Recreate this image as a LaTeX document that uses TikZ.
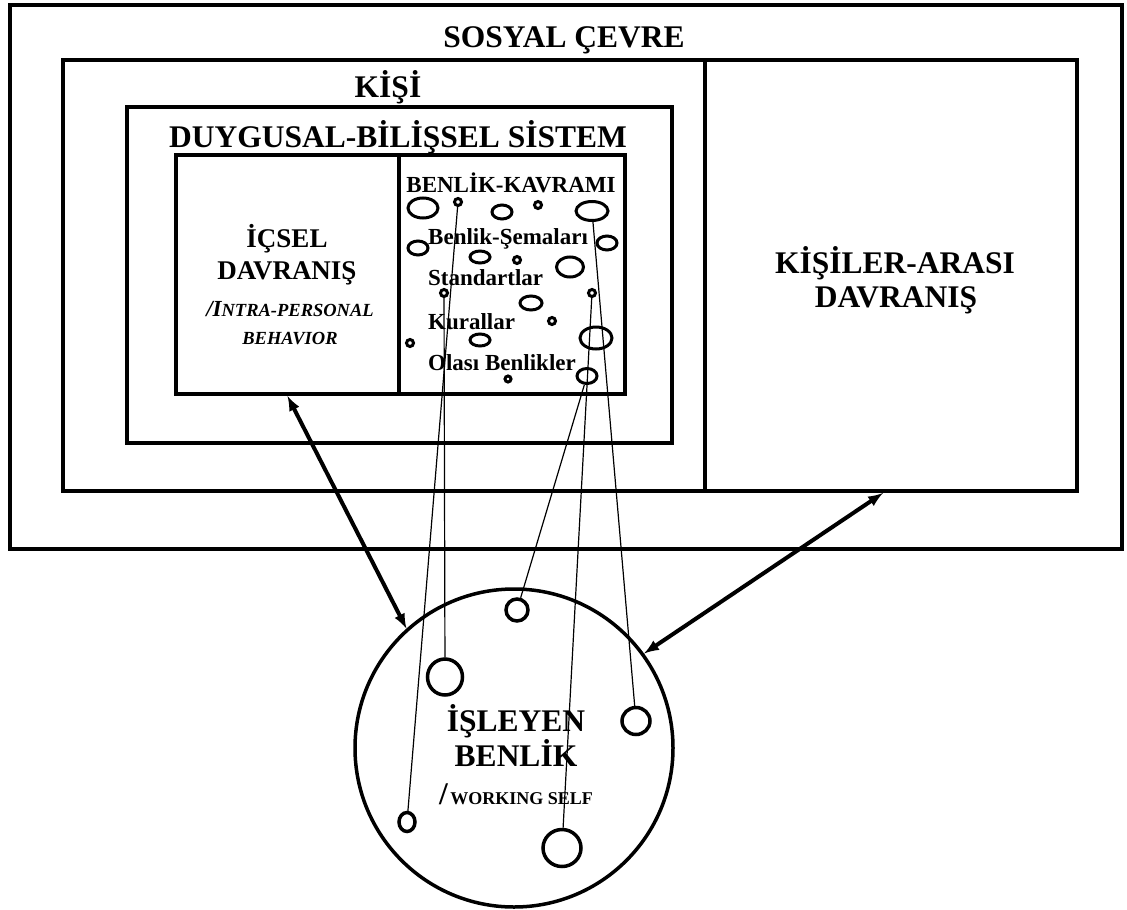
\documentclass[tikz,border=0pt]{standalone}
\usepackage{fontspec}
\setmainfont{Liberation Serif}
\usetikzlibrary{arrows}
\usetikzlibrary{shapes.geometric}

\tikzset{
	box/.style = {draw, rectangle, line width=4pt, inner sep=0pt},
	ring/.style = {draw, ellipse, line width=3pt, inner sep=0pt},
	dot/.style = {draw, circle, line width=3pt, inner sep=0pt, minimum size=7pt},
	head/.style = {anchor=base, inner sep=0pt, font=\fontsize{31.5}{32}\selectfont\bfseries},
	midhead/.style = {anchor=base, inner sep=0pt, font=\fontsize{27}{28}\selectfont\bfseries},
	item/.style = {anchor=base west, inner sep=0pt, font=\fontsize{23}{24}\selectfont\bfseries},
	thread/.style = {line width=1.2pt},
	link/.style = {<->, >=latex, line width=4pt}
}

\begin{document}
\begin{tikzpicture}[x=1pt, y=-1pt]
	\useasboundingbox (0,0) rectangle (1127,910);

	\node [box, minimum width=1112pt, minimum height=544pt] (cevre) at (566,277) {};
	\node [box, minimum width=1014pt, minimum height=431pt] (kisi) at (570,275.5) {};
	\node [box, minimum width=372pt, minimum height=431pt] (kisiler) at (891,275.5) {};
	\node [box, minimum width=545pt, minimum height=336pt] (sistem) at (399.5,275) {};
	\node [box, minimum width=223pt, minimum height=239pt] (icsel) at (287.5,274.5) {};
	\node [box, minimum width=226pt, minimum height=239pt] (kavram) at (512,274.5) {};
	\node [draw, circle, line width=3.5pt, minimum size=318pt] (isleyen) at (514,748) {};

	\node [head] (cevret) at (564,47) {SOSYAL ÇEVRE};
	\node [head] (kisit) at (388,97) {KİŞİ};
	\node [head] (sistemt) at (398,147) {DUYGUSAL-BİLİŞSEL SİSTEM};
	\node [midhead] (icsel1) at (287,247) {İÇSEL};
	\node [midhead] (icsel2) at (287,279) {DAVRANIŞ};
	\node [anchor=base, inner sep=0pt, font=\bfseries\itshape] (icsel3) at (290,316)
		{{\fontsize{23}{24}\selectfont /I}\fontsize{18.5}{20}\selectfont NTRA-PERSONAL};
	\node [anchor=base, inner sep=0pt, font=\fontsize{18.5}{20}\selectfont\bfseries\itshape] (icsel4) at (290,344) {BEHAVIOR};
	\node [head] (kisiler1) at (895,273) {KİŞİLER-ARASI};
	\node [head] (kisiler2) at (896,307) {DAVRANIŞ};
	\node [anchor=base, inner sep=0pt, font=\fontsize{23}{24}\selectfont\bfseries] (kavramt) at (511,192) {BENLİK-KAVRAMI};
	\node [item] (sema) at (428,244) {Benlik-Şemaları};
	\node [item] (standart) at (428,285) {Standartlar};
	\node [item] (kural) at (428,329) {Kurallar};
	\node [item] (olasi) at (428,370) {Olası Benlikler};
	\node [head] (isleyen1) at (516,731) {İŞLEYEN};
	\node [head] (isleyen2) at (516,766) {BENLİK};
	\node [anchor=base, inner sep=0pt, font=\bfseries] (isleyen3) at (516,804)
		{{\fontsize{31.5}{32}\selectfont /} \fontsize{18}{20}\selectfont WORKING SELF};

	\node [ring, minimum width=30pt, minimum height=20pt] (e1) at (423,208) {};
	\node [dot] (e2) at (458,202) {};
	\node [ring, minimum width=20pt, minimum height=14pt] (e3) at (502,212) {};
	\node [dot] (e4) at (538,205) {};
	\node [ring, minimum width=32pt, minimum height=19pt] (e5) at (592,211) {};
	\node [ring, minimum width=20pt, minimum height=14pt] (e6) at (418,248) {};
	\node [ring, minimum width=20pt, minimum height=14pt] (e7) at (607,243) {};
	\node [ring, minimum width=20pt, minimum height=12pt] (e8) at (480,257) {};
	\node [dot] (e9) at (517,260) {};
	\node [ring, minimum width=27pt, minimum height=20pt] (e10) at (570,267) {};
	\node [dot] (e11) at (444,293) {};
	\node [dot] (e12) at (592,293) {};
	\node [ring, minimum width=22pt, minimum height=14pt] (e13) at (531,303) {};
	\node [dot] (e14) at (552,321) {};
	\node [ring, minimum width=32pt, minimum height=22pt] (e15) at (596,338) {};
	\node [dot] (e16) at (410,343) {};
	\node [ring, minimum width=20pt, minimum height=12pt] (e17) at (480,340) {};
	\node [ring, minimum width=20pt, minimum height=15pt] (e18) at (587,376) {};
	\node [dot, minimum size=6pt] (e19) at (508,379) {};

	\node [ring, line width=3.5pt, minimum width=22pt, minimum height=22pt] (w1) at (517,610) {};
	\node [ring, line width=3.5pt, minimum width=35pt, minimum height=36pt] (w2) at (445,677) {};
	\node [ring, line width=3.5pt, minimum width=28pt, minimum height=27pt] (w3) at (636,721) {};
	\node [ring, line width=3.5pt, minimum width=16pt, minimum height=19pt] (w4) at (407,822) {};
	\node [ring, line width=3.5pt, minimum width=38pt, minimum height=37pt] (w5) at (562,848) {};

	\draw [thread] (e2) -- (w4);
	\draw [thread] (e11) -- (w2);
	\draw [thread] (e18) -- (w1);
	\draw [thread] (e12) -- (w5);
	\draw [thread] (e5) -- (w3);

	\draw [link] (icsel.south) -- (isleyen.132);
	\draw [link] ([xshift=-8pt]kisiler.south) -- (isleyen.36);
\end{tikzpicture}
\end{document}
